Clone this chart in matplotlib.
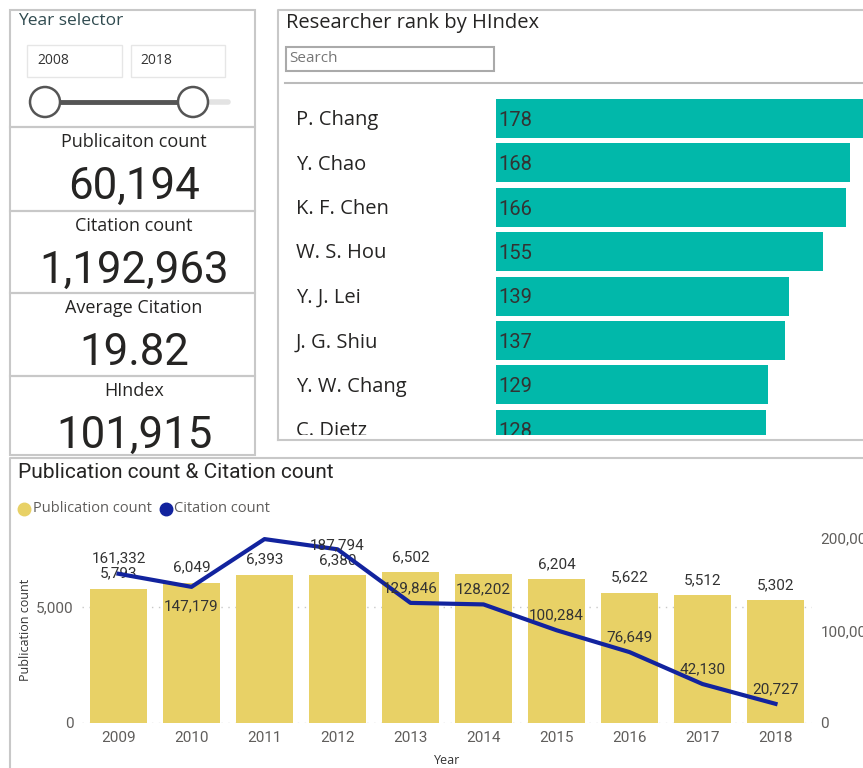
import matplotlib.pyplot as plt
from matplotlib.patches import Rectangle, Circle

# dados do painel
anos = ['2009', '2010', '2011', '2012', '2013', '2014', '2015', '2016', '2017', '2018']
publicacoes = [5793, 6049, 6393, 6380, 6502, 6437, 6204, 5622, 5512, 5302]
citacoes = [161332, 147179, 198820, 187794, 129846, 128202, 100284, 76649, 42130, 20727]

pesquisadores = ['P. Chang', 'Y. Chao', 'K. F. Chen', 'W. S. Hou', 'Y. J. Lei',
                 'J. G. Shiu', 'Y. W. Chang', 'C. Dietz']
hindex = [178, 168, 166, 155, 139, 137, 129, 128]

cards = ['Publicaiton count', 'Citation count', 'Average Citation', 'HIndex']
cards_valores = ['60,194', '1,192,963', '19.82', '101,915']
ano_inicio, ano_fim = '2008', '2018'

AMARELO = '#E8D166'
AZUL = '#12239E'
VERDE = '#01B8AA'
BORDA = '#C8C8C8'
TXT = '#252423'
CINZA = '#605E5C'
NUM = ['Roboto', 'DejaVu Sans']
SEG = ['Open Sans', 'DejaVu Sans']

W, H = 863, 768
fig = plt.figure(figsize=(W / 100, H / 100), dpi=100)


def px(x, y, w, h):
    # retangulo em pixels (origem no topo) -> coordenadas da figura
    return [x / W, 1 - (y + h) / H, w / W, h / H]


# fundo para caixas e textos soltos
bg = fig.add_axes([0, 0, 1, 1])
bg.set_xlim(0, W)
bg.set_ylim(H, 0)
bg.axis('off')


def caixa(x0, y0, x1, y1, cor=BORDA, lw=1.5):
    bg.add_patch(Rectangle((x0, y0), x1 - x0, y1 - y0, fill=False, ec=cor, lw=lw))


# seletor de ano
caixa(10, 10, 255, 127)
bg.text(18, 21, 'Year selector', fontsize=12.5, color='#2F4A4F', va='center', family=SEG)
caixa(27, 45, 122, 77, cor='#E6E6E6', lw=1)
caixa(131, 45, 225, 77, cor='#E6E6E6', lw=1)
bg.text(37, 61, ano_inicio, fontsize=10, color='#333333', va='center', family=SEG)
bg.text(140, 61, ano_fim, fontsize=10, color='#333333', va='center', family=SEG)
bg.plot([193, 228], [102, 102], color='#E3E3E3', lw=4, solid_capstyle='round')
bg.plot([45, 193], [102, 102], color='#555555', lw=3.5)
for cx in (45, 193):
    bg.add_patch(Circle((cx, 102), 15, fc='white', ec='#555555', lw=1.8, zorder=3))

# cartoes
limites = [(127, 211), (211, 293), (293, 376), (376, 455)]
for (y0, y1), titulo, valor in zip(limites, cards, cards_valores):
    caixa(10, y0, 255, y1)
    bg.text(134, y0 + 15, titulo, fontsize=13, color=TXT, ha='center', va='center', family=SEG)
    bg.text(134, y0 + 60, valor, fontsize=31.5, color=TXT, ha='center', va='center', family=NUM)

# painel do ranking
bg.plot([278, 278, 870], [440, 10, 10], color=BORDA, lw=1.5)
bg.plot([278, 870], [440, 440], color=BORDA, lw=1.5)
bg.text(286, 23, 'Researcher rank by HIndex', fontsize=14.5, color=TXT, va='center', family=SEG)
caixa(286, 47, 494, 71, cor='#AAAAAA', lw=1.5)
bg.text(289, 59, 'Search', fontsize=11, color='#777777', va='center', family=SEG)
bg.plot([285, 863], [83, 83], color='#BBBBBB', lw=1.5)

k = 354 / 168  # pixels por unidade de HIndex
axr = fig.add_axes(px(286, 95, 577, 340))
axr.set_facecolor('none')
axr.barh(range(len(hindex)), hindex, height=0.88, color=VERDE)
axr.set_xlim(-(496 - 286) / k, (863 - 496) / k)
axr.set_ylim((435 - 118.5) / 44.4, -(118.5 - 95) / 44.4)
for i, (nome, v) in enumerate(zip(pesquisadores, hindex)):
    axr.text(-(496 - 296) / k, i + 0.04, nome, fontsize=14.5, color=TXT, va='center',
             family=SEG, clip_on=True)
    axr.text(1.3, i + 0.04, str(v), fontsize=14.5, color='#333333', va='center',
             family=NUM, clip_on=True)
axr.axis('off')

# painel inferior
bg.plot([10, 10, 870], [770, 458, 458], color=BORDA, lw=1.5)
bg.text(18, 472, 'Publication count & Citation count', fontsize=15, color=TXT,
        va='center', family=NUM)
bg.plot([24], [508.5], 'o', ms=9, color=AMARELO)
bg.text(33, 508.5, 'Publication count', fontsize=10.5, color=CINZA, va='center', family=SEG)
bg.plot([166], [508.5], 'o', ms=9, color=AZUL)
bg.text(174, 508.5, 'Citation count', fontsize=10.5, color=CINZA, va='center', family=SEG)
bg.text(25, 630, 'Publication count', fontsize=9, color='#333333', rotation=90,
        ha='center', va='center', family=SEG)
bg.text(447, 760, 'Year', fontsize=9, color='#333333', ha='center', va='center', family=SEG)

ax = fig.add_axes(px(82, 520, 730, 203))
ax.set_facecolor('none')
x = range(len(anos))
ax.bar(x, publicacoes, width=0.79, color=AMARELO, zorder=2)
ax.set_xlim(-0.5, len(anos) - 0.5)
ax.set_ylim(0, 203 / 116 * 5000)
ax.set_yticks([0, 5000])
ax.set_yticklabels(['0', '5,000'])
ax.set_xticks(list(x))
ax.set_xticklabels(anos)
ax.grid(axis='y', color='#C8C8C8', linestyle=(0, (1, 4)), lw=1, zorder=0)
ax.tick_params(length=0, labelsize=11, labelcolor=CINZA, pad=6)
for lab in ax.get_xticklabels() + ax.get_yticklabels():
    lab.set_family(NUM)
for s in ax.spines.values():
    s.set_visible(False)

for i, v in enumerate(publicacoes):
    if anos[i] == '2014':
        continue
    ax.annotate(f'{v:,}', (i, v), xytext=(0, 15), textcoords='offset pixels',
                ha='center', va='center', fontsize=11, color='#333333', family=NUM, zorder=5)

ax2 = ax.twinx()
ax2.set_ylim(0, 203 / 92.5 * 100000)
ax2.plot(list(x), citacoes, color=AZUL, lw=3, zorder=4, solid_joinstyle='round')
ax2.set_yticks([0, 100000, 200000])
ax2.set_yticklabels(['0', '100,000', '200,000'])
ax2.tick_params(length=0, labelsize=11, labelcolor=CINZA, pad=6)
for lab in ax2.get_yticklabels():
    lab.set_family(NUM)
for s in ax2.spines.values():
    s.set_visible(False)

desloc = {'2010': -19, '2012': 4}
for i, v in enumerate(citacoes):
    if anos[i] == '2011':
        continue
    ax2.annotate(f'{v:,}', (i, v), xytext=(0, desloc.get(anos[i], 15)),
                 textcoords='offset pixels', ha='center', va='center',
                 fontsize=11, color='#333333', family=NUM, zorder=5)

fig.savefig('out.png', dpi=100)
